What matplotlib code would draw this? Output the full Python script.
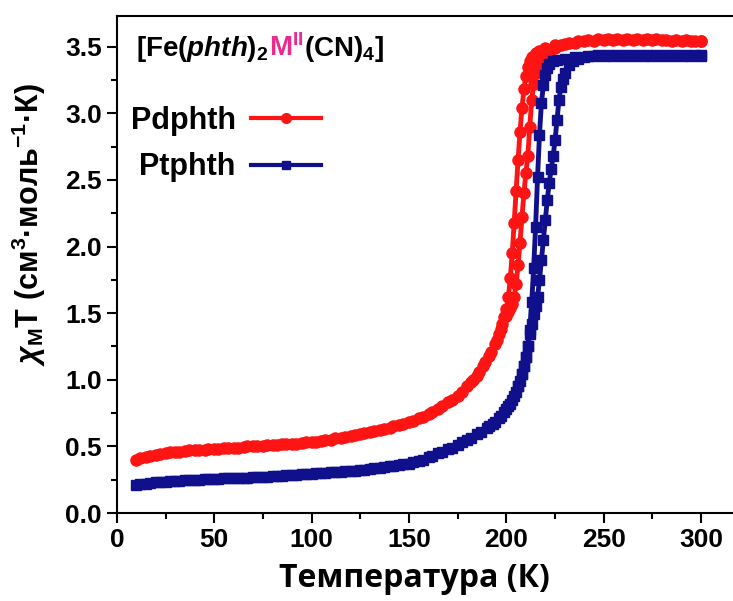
import matplotlib
matplotlib.use('Agg')
import matplotlib.pyplot as plt
from matplotlib.lines import Line2D
from matplotlib.offsetbox import TextArea, HPacker, AnchoredOffsetbox
from matplotlib.ticker import MultipleLocator, FormatStrFormatter

plt.rcParams['font.family'] = ['Liberation Sans', 'DejaVu Sans']
plt.rcParams['font.weight'] = 'bold'
plt.rcParams['axes.labelweight'] = 'bold'
plt.rcParams['mathtext.fontset'] = 'custom'
plt.rcParams['mathtext.rm'] = 'Liberation Sans:bold'
plt.rcParams['mathtext.bf'] = 'Liberation Sans:bold'
plt.rcParams['mathtext.it'] = 'Liberation Sans:italic'
plt.rcParams['mathtext.bfit'] = 'Liberation Sans:bold:italic'

# Pdphth, cooling branch
pd_cool_T = [10, 15, 20, 25, 30, 35, 40, 45, 50, 55, 60, 65, 70, 75, 80, 85, 90, 95,
             100, 105, 110, 115, 120, 125, 130, 135, 140, 145, 150, 155, 160, 165,
             170, 175, 180, 183, 186, 189, 192, 195, 197, 199, 200, 201, 202, 203,
             204, 205, 206, 207, 208, 209, 210, 211, 212, 213, 215, 217, 220, 225,
             230, 235, 240, 245, 250, 255, 260, 265, 270, 275, 280, 285, 290, 295, 300]
pd_cool_y = [0.40, 0.42, 0.435, 0.45, 0.46, 0.465, 0.47, 0.475, 0.48, 0.485, 0.49,
             0.495, 0.50, 0.505, 0.51, 0.515, 0.52, 0.525, 0.53, 0.54, 0.55, 0.565,
             0.58, 0.595, 0.61, 0.625, 0.64, 0.66, 0.68, 0.71, 0.74, 0.78, 0.83, 0.88,
             0.95, 1.00, 1.06, 1.13, 1.21, 1.30, 1.38, 1.47, 1.53, 1.62, 1.76, 1.95,
             2.18, 2.42, 2.65, 2.86, 3.04, 3.18, 3.28, 3.35, 3.39, 3.42, 3.45, 3.47,
             3.49, 3.51, 3.52, 3.53, 3.54, 3.545, 3.55, 3.55, 3.55, 3.55, 3.55, 3.55,
             3.55, 3.545, 3.54, 3.54, 3.54]

# Pdphth, warming branch
pd_warm_T = [12, 17, 22, 27, 32, 37, 42, 47, 52, 57, 62, 67, 72, 77, 82, 87, 92, 97,
             102, 107, 112, 117, 122, 127, 132, 137, 142, 147, 152, 157, 162, 167,
             172, 177, 182, 185, 188, 191, 194, 196, 198, 200, 201, 202, 203, 204,
             205, 206, 207, 208, 209, 210, 211, 212, 213, 214, 215, 216, 217, 218,
             220, 222, 225, 228, 232, 237, 242, 247, 252, 257, 262, 267, 272, 277,
             282, 287, 292, 297, 300]
pd_warm_y = [0.41, 0.425, 0.44, 0.455, 0.46, 0.47, 0.47, 0.48, 0.48, 0.49, 0.49, 0.50,
             0.50, 0.51, 0.51, 0.52, 0.52, 0.53, 0.535, 0.545, 0.56, 0.57, 0.585, 0.60,
             0.615, 0.63, 0.65, 0.67, 0.69, 0.72, 0.76, 0.80, 0.85, 0.91, 0.98, 1.03,
             1.10, 1.18, 1.27, 1.34, 1.42, 1.48, 1.51, 1.54, 1.57, 1.62, 1.72, 1.86,
             2.03, 2.22, 2.40, 2.55, 2.68, 2.90, 3.10, 3.22, 3.30, 3.35, 3.39, 3.42,
             3.45, 3.47, 3.49, 3.51, 3.53, 3.54, 3.55, 3.555, 3.56, 3.56, 3.56, 3.56,
             3.56, 3.555, 3.55, 3.55, 3.55, 3.545, 3.545]

# Ptphth, cooling branch
pt_cool_T = [10, 15, 20, 25, 30, 35, 40, 45, 50, 55, 60, 65, 70, 75, 80, 85, 90, 95,
             100, 105, 110, 115, 120, 125, 130, 135, 140, 145, 150, 155, 160, 165,
             170, 175, 180, 185, 190, 193, 196, 199, 201, 203, 205, 206, 207, 208,
             209, 210, 211, 212, 213, 214, 215, 216, 217, 218, 219, 220, 221, 222,
             224, 226, 230, 235, 240, 245, 250, 255, 260, 265, 270, 275, 280, 285,
             290, 295, 300]
pt_cool_y = [0.21, 0.22, 0.23, 0.235, 0.24, 0.245, 0.25, 0.253, 0.257, 0.26, 0.262,
             0.265, 0.268, 0.27, 0.275, 0.28, 0.285, 0.29, 0.295, 0.30, 0.305, 0.31,
             0.315, 0.32, 0.33, 0.34, 0.35, 0.36, 0.37, 0.39, 0.42, 0.45, 0.48, 0.51,
             0.55, 0.59, 0.64, 0.67, 0.71, 0.76, 0.80, 0.85, 0.91, 0.95, 0.99, 1.04,
             1.10, 1.17, 1.25, 1.37, 1.58, 1.84, 2.15, 2.52, 2.84, 3.08, 3.21, 3.29,
             3.34, 3.37, 3.39, 3.40, 3.41, 3.42, 3.42, 3.43, 3.43, 3.43, 3.43, 3.43,
             3.43, 3.43, 3.43, 3.43, 3.43, 3.43, 3.43]

# Ptphth, warming branch
pt_warm_T = [12, 17, 22, 27, 32, 37, 42, 47, 52, 57, 62, 67, 72, 77, 82, 87, 92, 97,
             102, 107, 112, 117, 122, 127, 132, 137, 142, 147, 152, 157, 162, 167,
             172, 177, 182, 187, 191, 194, 197, 200, 202, 204, 206, 208, 209, 210,
             211, 212, 213, 214, 215, 216, 217, 218, 219, 220, 221, 222, 223, 224,
             225, 226, 227, 228, 229, 230, 232, 234, 237, 242, 247, 252, 257, 262,
             267, 272, 277, 282, 287, 292, 297, 300]
pt_warm_y = [0.215, 0.225, 0.232, 0.237, 0.242, 0.247, 0.251, 0.255, 0.258, 0.261,
             0.263, 0.266, 0.269, 0.272, 0.277, 0.282, 0.287, 0.292, 0.297, 0.302,
             0.307, 0.312, 0.317, 0.325, 0.335, 0.345, 0.355, 0.365, 0.38, 0.40,
             0.43, 0.46, 0.49, 0.53, 0.56, 0.61, 0.65, 0.68, 0.73, 0.78, 0.82, 0.88,
             0.95, 1.04, 1.10, 1.17, 1.25, 1.34, 1.42, 1.49, 1.55, 1.62, 1.75, 1.90,
             2.05, 2.20, 2.35, 2.48, 2.58, 2.68, 2.80, 2.95, 3.10, 3.20, 3.26, 3.30,
             3.36, 3.39, 3.41, 3.43, 3.435, 3.44, 3.44, 3.44, 3.44, 3.44, 3.44, 3.44,
             3.44, 3.44, 3.44, 3.44]

red = '#FF1414'
navy = '#10108C'
pink = '#EC2A8C'

fig = plt.figure(figsize=(7.33, 6.01), dpi=100)
ax = fig.add_axes([0.1596, 0.1464, 0.85, 0.827])

for T, y in ((pd_cool_T, pd_cool_y), (pd_warm_T, pd_warm_y)):
    ax.plot(T, y, color=red, lw=3.5, marker='o', ms=8, mec=red, mfc=red)
for T, y in ((pt_cool_T, pt_cool_y), (pt_warm_T, pt_warm_y)):
    ax.plot(T, y, color=navy, lw=3.5, marker='s', ms=7, mec=navy, mfc=navy)

ax.set_xlim(0, 320)
ax.set_ylim(0, 3.73)
ax.set_xticks([0, 50, 100, 150, 200, 250, 300])
ax.xaxis.set_minor_locator(MultipleLocator(25))
ax.yaxis.set_major_locator(MultipleLocator(0.5))
ax.yaxis.set_minor_locator(MultipleLocator(0.25))
ax.yaxis.set_major_formatter(FormatStrFormatter('%.1f'))
ax.tick_params(which='major', direction='out', length=7, width=1.5, labelsize=19, pad=4)
ax.tick_params(which='minor', direction='out', length=4, width=1.5)
ax.tick_params(top=False, right=False)
for s in ax.spines.values():
    s.set_linewidth(1.5)
ax.spines['right'].set_visible(False)

ax.set_xlabel('Температура (К)', fontsize=23, family=['Open Sans', 'DejaVu Sans'],
              fontweight='bold')
ax.xaxis.set_label_coords(0.478, -0.098)
ax.set_ylabel(r'$\chi_\mathbf{M}$T (см$^\mathbf{3}$·моль$^\mathbf{-1}$·К)', fontsize=22)
ax.yaxis.set_label_coords(-0.11, 0.58)

# compound formula at top left
tp = dict(color='black', fontsize=20, fontweight='bold')
parts = [
    TextArea(r'[Fe($\mathbfit{phth}$)$_\mathbf{2}$', textprops=tp),
    TextArea(r'M$^\mathbf{II}$', textprops=dict(tp, color=pink)),
    TextArea(r'(CN)$_\mathbf{4}$]', textprops=tp),
]
box = HPacker(children=parts, align='baseline', pad=0, sep=0)
anch = AnchoredOffsetbox(loc='upper left', child=box, frameon=False,
                         bbox_to_anchor=(0.02, 0.977), bbox_transform=ax.transAxes, pad=0)
ax.add_artist(anch)

handles = [Line2D([], [], color=red, lw=3, marker='o', ms=7),
           Line2D([], [], color=navy, lw=3, marker='s', ms=6)]
ax.legend(handles, ['Pdphth', 'Ptphth'], loc='upper left', bbox_to_anchor=(-0.022, 0.875),
          frameon=False, markerfirst=False, numpoints=1, handlelength=2.3,
          handletextpad=0.5, prop=dict(size=22, weight='bold'), labelspacing=0.55)

fig.savefig('out.png', dpi=100)
